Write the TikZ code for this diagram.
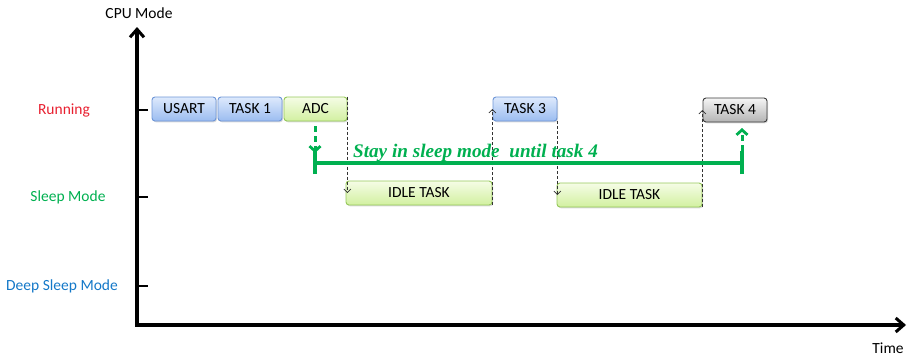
\documentclass[tikz,border=0pt]{standalone}
\usepackage{fontspec}
\setmainfont{Carlito}
\newfontfamily\notefont{Liberation Serif}
\usetikzlibrary{arrows.meta,shadows}

\definecolor{runred}{RGB}{232,32,48}
\definecolor{sleepgreen}{RGB}{0,176,80}
\definecolor{deepblue}{RGB}{20,120,200}
\definecolor{blueedge}{RGB}{110,150,215}
\definecolor{bluetop}{RGB}{222,234,252}
\definecolor{bluebot}{RGB}{155,188,240}
\definecolor{greenedge}{RGB}{150,200,90}
\definecolor{greentop}{RGB}{245,252,230}
\definecolor{greenbot}{RGB}{210,240,160}
\definecolor{greyedge}{RGB}{60,60,60}
\definecolor{greytop}{RGB}{245,245,245}
\definecolor{greybot}{RGB}{180,180,180}

\tikzset{
  every node/.style={font=\fontsize{15.5}{17}\selectfont},
  taskbox/.style={draw, line width=0.9pt, rounded corners=3pt, minimum width=64pt,
    minimum height=24pt, inner sep=0pt,
    drop shadow={shadow xshift=1pt, shadow yshift=-1.3pt, opacity=0.3}},
  bluetask/.style={taskbox, draw=blueedge, top color=bluetop, bottom color=bluebot},
  greentask/.style={taskbox, draw=greenedge, top color=greentop, bottom color=greenbot},
  greytask/.style={taskbox, draw=greyedge, top color=greytop, bottom color=greybot},
  axisline/.style={line width=3.2pt, -{Straight Barb[length=8pt, width=14pt, line width=3pt]}},
  tickmark/.style={line width=2.2pt},
  switchline/.style={densely dashed, line width=0.8pt, black!80,
    -{Straight Barb[length=3.5pt, width=7pt, line width=0.7pt]}},
  sleepbar/.style={line width=3.2pt, sleepgreen},
  sleeparrow/.style={sleepgreen, line width=3pt, dash pattern=on 6pt off 4pt,
    -{Straight Barb[length=5pt, width=11pt, line width=2.8pt]}},
}

\begin{document}
\begin{tikzpicture}[x=1pt, y=-1pt]
  \useasboundingbox (0,0) rectangle (908,359);

  % axes
  \coordinate (origin) at (137,325);
  \coordinate (ytop) at (137,27);
  \coordinate (xend) at (906,325);
  \draw[axisline] (origin) -- (ytop);
  \draw[axisline] ([xshift=-1.6pt]origin) -- (xend);
  \node (ylabel) at (139,13) {CPU Mode};
  \node (xlabel) at (888,348) {Time};

  % mode levels
  \coordinate (trun) at (137,110);
  \coordinate (tsleep) at (137,197);
  \coordinate (tdeep) at (137,286);
  \draw[tickmark] (trun) -- ++(11,0);
  \draw[tickmark] (tsleep) -- ++(11,0);
  \draw[tickmark] (tdeep) -- ++(11,0);
  \node[text=runred] (lrun) at (64,110) {Running};
  \node[text=sleepgreen] (lsleep) at (68,197) {Sleep Mode};
  \node[text=deepblue] (ldeep) at (62,286) {Deep Sleep Mode};

  % tasks
  \node[bluetask] (usart) at (184,109) {USART};
  \node[bluetask] (task1) at (250,109) {TASK 1};
  \node[greentask, minimum width=63pt] (adc) at (315.5,109) {ADC};
  \node[bluetask] (task3) at (525,109) {TASK 3};
  \node[greytask] (task4) at (735,110) {TASK 4};
  \node[greentask, minimum width=146pt] (idle1) at (419,193) {IDLE TASK};
  \node[greentask, minimum width=145pt] (idle2) at (629.5,195) {IDLE TASK};

  % context switches
  \draw[switchline] (adc.north east) -- (adc.north east |- idle1.west);
  \draw[switchline] (idle1.south east) -- (idle1.south east |- task3.west);
  \draw[switchline] (task3.south east) -- (task3.south east |- idle2.west);
  \draw[switchline] (idle2.south east) -- (idle2.south east |- task4.west);

  % sleep interval
  \coordinate (sstart) at (315,163);
  \coordinate (send) at (742,163);
  \draw[sleepbar] (sstart) -- (send);
  \draw[sleepbar] ([yshift=-11pt]sstart) -- ([yshift=12pt]sstart);
  \draw[sleepbar] ([yshift=-11pt]send) -- ([yshift=12pt]send);
  \draw[sleeparrow] (315,126) -- (315,153);
  \draw[sleeparrow] (742,151) -- (742,128);
  \node[text=sleepgreen, font=\notefont\fontsize{19.2}{21}\selectfont\bfseries\itshape]
    (note) at (475.5,153) {Stay in sleep mode\ \ until task 4};
\end{tikzpicture}
\end{document}
